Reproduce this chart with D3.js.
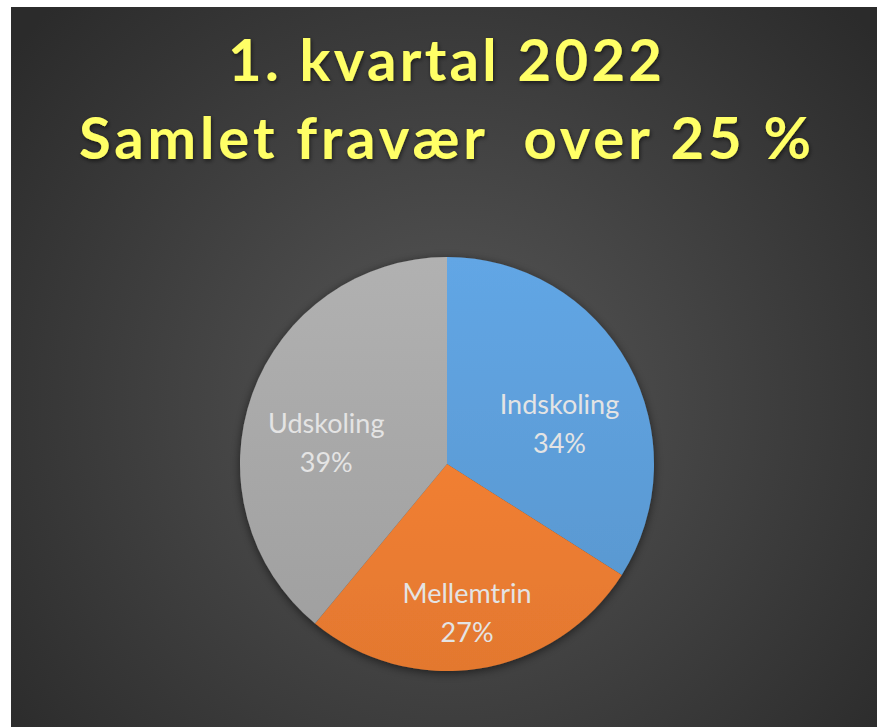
<!DOCTYPE html>
<html lang="da">
<head>
<meta charset="utf-8">
<script src="https://d3js.org/d3.v7.min.js"></script>
<title>Fravær pie</title>
<style>
    body { margin: 0; background: #fff; }
    text { font-family: Lato, "Open Sans", sans-serif; }
</style>
</head>
<body>
<div id="container"></div>
<script>
    // data
    var categories = ["Indskoling", "Mellemtrin", "Udskoling"];
    var values = [34, 27, 39];
    var titleLines = ["1. kvartal 2022", "Samlet fravær\u00a0 over 25 %"];
    var colours = ["#5b9bd5", "#ed7d31", "#a5a5a5"];

    var width = 877, height = 727;
    var cx = 447, cy = 464, radius = 207;

    var svg = d3.select("#container")
        .append("svg")
        .attr("width", width)
        .attr("height", height);

    var defs = svg.append("defs");

    var bg = defs.append("radialGradient")
        .attr("id", "bg")
        .attr("gradientUnits", "userSpaceOnUse")
        .attr("cx", 450).attr("cy", 400).attr("r", 560);
    bg.append("stop").attr("offset", "0%").attr("stop-color", "#575757");
    bg.append("stop").attr("offset", "100%").attr("stop-color", "#2b2b2b");

    // slice gradients in the pie group's own coords
    colours.forEach(function(c, i) {
        var lg = defs.append("linearGradient")
            .attr("id", "slice" + i)
            .attr("gradientUnits", "userSpaceOnUse")
            .attr("x1", 0).attr("y1", -radius)
            .attr("x2", 0).attr("y2", radius);
        lg.append("stop").attr("offset", "0%").attr("stop-color", d3.color(c).brighter(0.2));
        lg.append("stop").attr("offset", "100%").attr("stop-color", d3.color(c).darker(0.12));
    });

    var shadow = defs.append("filter").attr("id", "shadow")
        .attr("x", "-20%").attr("y", "-20%").attr("width", "140%").attr("height", "140%");
    shadow.append("feDropShadow")
        .attr("dx", 0).attr("dy", 2).attr("stdDeviation", 5)
        .attr("flood-color", "#000").attr("flood-opacity", 0.55);

    var tshadow = defs.append("filter").attr("id", "tshadow");
    tshadow.append("feDropShadow")
        .attr("dx", 1).attr("dy", 2).attr("stdDeviation", 2)
        .attr("flood-color", "#000").attr("flood-opacity", 0.55);

    svg.append("rect")
        .attr("x", 11).attr("y", 7)
        .attr("width", width - 11).attr("height", height - 7)
        .attr("fill", "url(#bg)");

    // title: size from cap height, spacing stretched to the width in the picture
    var titleWidths = [434, 732];
    var titleY = [81, 159];
    svg.selectAll(".title")
        .data(titleLines)
        .enter()
        .append("text")
        .attr("class", "title")
        .attr("x", 445)
        .attr("y", function(d, i) { return titleY[i]; })
        .attr("text-anchor", "middle")
        .attr("font-weight", "bold")
        .attr("font-size", 58)
        .attr("fill", "#ffff66")
        .attr("textLength", function(d, i) { return titleWidths[i]; })
        .attr("lengthAdjust", "spacing")
        .attr("filter", "url(#tshadow)")
        .text(function(d) { return d; });

    var pie = d3.pie().sort(null).value(function(d) { return d; });
    var arcs = pie(values);
    var arc = d3.arc().innerRadius(0).outerRadius(radius);
    var labelArc = d3.arc().innerRadius(radius * 0.62).outerRadius(radius * 0.62);

    var g = svg.append("g")
        .attr("transform", "translate(" + cx + "," + cy + ")");

    g.append("g")
        .attr("filter", "url(#shadow)")
        .selectAll("path")
        .data(arcs)
        .enter()
        .append("path")
        .attr("d", arc)
        .attr("fill", function(d, i) { return "url(#slice" + i + ")"; });

    var labels = g.selectAll(".lbl")
        .data(arcs)
        .enter()
        .append("text")
        .attr("class", "lbl")
        .attr("text-anchor", "middle")
        .attr("font-size", 27)
        .attr("fill", "#e4e4e4")
        .attr("transform", function(d) { return "translate(" + labelArc.centroid(d) + ")"; });
    labels.append("tspan")
        .attr("x", 0).attr("dy", 12)
        .text(function(d, i) { return categories[i]; });
    labels.append("tspan")
        .attr("x", 0).attr("dy", 39)
        .text(function(d) { return d.value + "%"; });
</script>
</body>
</html>
